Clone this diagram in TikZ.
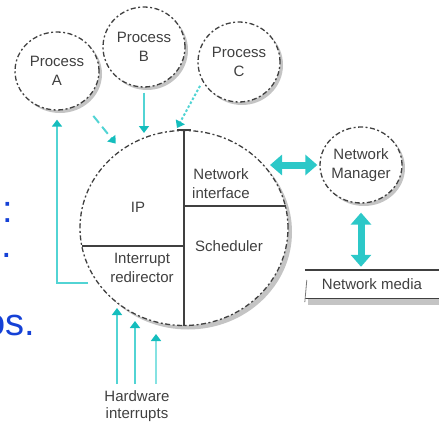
\documentclass[tikz,border=0pt]{standalone}
\usepackage{fontspec}
\setmainfont{Liberation Sans}
\usetikzlibrary{arrows.meta,shapes.geometric}
\definecolor{ink}{HTML}{404040}
\definecolor{shadowgray}{HTML}{C4C4C4}
\definecolor{cy}{HTML}{52D4D4}
\definecolor{cyl}{HTML}{85E2E2}
\definecolor{cyd}{HTML}{14BDBD}
\definecolor{cyb}{HTML}{2CC8C8}
\definecolor{slideblue}{HTML}{1541D6}
\begin{document}
\begin{tikzpicture}[x=1pt,y=-1pt,
  bubble/.style={ellipse, draw=ink, line width=1.3pt,
    dash pattern=on 5pt off 2.5pt on 2pt off 2.5pt, fill=white,
    inner sep=0pt},
  shadowfill/.style={fill=shadowgray},
  lbl/.style={align=center, font=\fontsize{15}{19}\selectfont, text=ink},
  divider/.style={draw=ink, line width=1.6pt},
  feed/.style={draw=cy, line width=2pt, -{Triangle[length=7pt,width=10pt,fill=cyd,color=cyd]}},
  feeddash/.style={feed, dash pattern=on 9pt off 5pt},
  feeddot/.style={feed, dash pattern=on 2.5pt off 2pt},
  bigarrow/.style={draw=cyb, line width=7pt, {Triangle[length=12pt,width=20pt]}-{Triangle[length=12pt,width=20pt]}},
  slide/.style={anchor=base east, text=slideblue, font=\fontsize{38}{42}\selectfont, inner sep=0pt}
]
\useasboundingbox (0,0) rectangle (439,423);

% slide text, cut at the left edge
\begin{scope}
  \clip (0,0) rectangle (439,423);
  \node[slide] (s1) at (13,222) {n:};
  \node[slide] (s2) at (12,257) {s.};
  \node[slide] (s3) at (35,335) {os.};
\end{scope}

% shadows
\fill[shadowfill] (188,232) ellipse [x radius=104pt, y radius=97.5pt];
\fill[shadowfill] (60,74) ellipse [x radius=42pt, y radius=39pt];
\fill[shadowfill] (147,50) ellipse [x radius=41pt, y radius=40pt];
\fill[shadowfill] (242,65) ellipse [x radius=41pt, y radius=40pt];
\fill[shadowfill] (364,168) ellipse [x radius=41pt, y radius=38pt];

% main circle
\node[bubble, minimum width=208pt, minimum height=195pt] (main) at (184,228) {};
\coordinate (lw) at (82,246);
\coordinate (lc) at (184,246);
\coordinate (rc) at (184,206);
\coordinate (rw) at (286,206);
\draw[divider] (main.north) -- (main.south);
\draw[divider] ([xshift=-7pt]main.north) -- ([xshift=7pt]main.north);
\draw[divider] (lw) -- (lc);
\draw[divider] (rc) -- (rw);

\node[lbl] (ip) at (138,207) {IP};
\node[lbl] (netif) at (221,184) {Network\\interface};
\node[lbl] (sched) at (229,246) {Scheduler};
\node[lbl] (intr) at (142,268) {Interrupt\\redirector};

% processes
\node[bubble, minimum width=84pt, minimum height=78pt] (pA) at (57,71) {};
\node[bubble, minimum width=82pt, minimum height=80pt] (pB) at (144,47) {};
\node[bubble, minimum width=82pt, minimum height=80pt] (pC) at (239,62) {};
\node[lbl] (tA) at (pA) {Process\\A};
\node[lbl] (tB) at (pB) {Process\\B};
\node[lbl] (tC) at (pC) {Process\\C};

% network manager and media
\node[bubble, minimum width=82pt, minimum height=76pt] (nm) at (361,165) {};
\node[lbl] (tnm) at (nm) {Network\\Manager};
\node[lbl, minimum width=134pt, minimum height=28pt, inner sep=0pt] (media) at (372,284) {Network media};
\coordinate (msw) at (308,298);
\coordinate (mse) at (439,305);
\fill[shadowfill] (msw) rectangle (mse);
\draw[ink, line width=1.6pt] (media.north west) -- (media.north east);
\draw[ink, line width=0.8pt] (media.south west) -- (media.south east);
\draw[ink!70, line width=0.8pt] ([yshift=-4pt]media.south west) -- ([xshift=2pt,yshift=4pt]media.west);

% connectors
\coordinate (fb) at (88,283);
\draw[feed, shorten >=9pt] (fb) -| (pA.south);
\draw[feeddash, shorten <=17pt, shorten >=8pt] (pA) -- (main);
\coordinate (bEnd) at (144,133);
\draw[feed, shorten <=5pt] (pB.south) -- (bEnd);
\coordinate (cEnd) at (177,128);
\draw[feeddot, shorten <=5pt] (pC.208) -- (cEnd);

\coordinate (dL) at (270,165);
\draw[bigarrow, shorten >=2pt] (dL) -- (nm.west);
\draw[bigarrow, shorten <=9pt, shorten >=3pt] (nm.south) -- (nm.south |- media.north);

% hardware interrupts
\node[lbl, font=\fontsize{15}{17}\selectfont] (hw) at (137,406) {Hardware\\interrupts};
\coordinate (h1) at (117,384);
\coordinate (h2) at (135,384);
\coordinate (h3) at (156,384);
\coordinate (t1) at (117,308);
\coordinate (t2) at (135,321);
\coordinate (t3) at (156,334);
\draw[feed] (h1) -- (t1);
\draw[feed] (h2) -- (t2);
\draw[feed, draw=cyl] (h3) -- (t3);
\end{tikzpicture}
\end{document}
